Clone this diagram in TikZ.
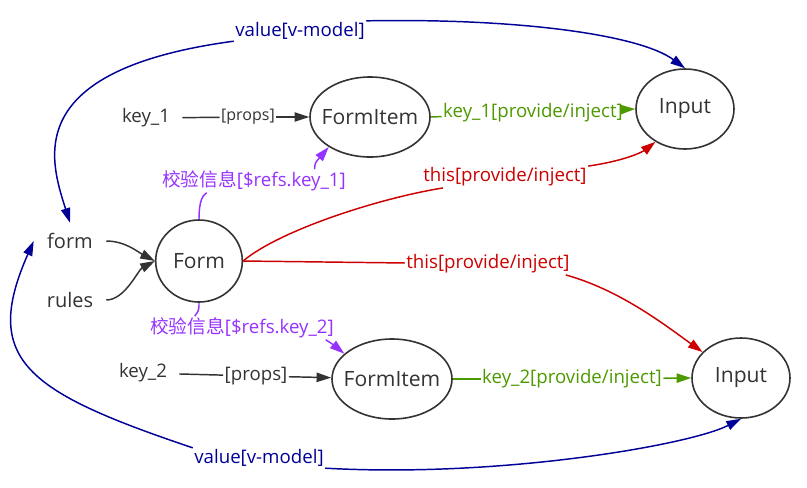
\documentclass[tikz,border=0pt]{standalone}
\usepackage{fontspec}
\setmainfont{Open Sans}
\newfontfamily\cjk{Noto Sans CJK SC}
\usetikzlibrary{arrows.meta,calc,shapes.geometric}
\definecolor{txtgray}{HTML}{333333}
\definecolor{vblue}{RGB}{0,0,150}
\definecolor{vred}{RGB}{204,0,0}
\definecolor{vgreen}{RGB}{77,153,0}
\definecolor{vpurple}{RGB}{150,50,255}
\tikzset{
  ell/.style={draw=txtgray,line width=1.2pt,ellipse,inner sep=0pt,text=txtgray,
    font=\fontsize{15.8}{18}\selectfont},
  itembox/.style={ell,inner xsep=-8pt,minimum width=90pt,minimum height=60pt},
  inputbox/.style={ell,minimum width=73.5pt,minimum height=60pt},
  plain/.style={text=txtgray,minimum width=54pt,minimum height=27pt,
    font=\fontsize{14}{17}\selectfont},
  lab/.style={inner sep=1pt,font=\fontsize{14}{17}\selectfont},
  tip/.style={-{Triangle[length=11pt,width=7pt]}},
  edge/.style={line width=1.1pt},
}
\begin{document}
\begin{tikzpicture}[x=0.75pt,y=-0.75pt]
    \useasboundingbox (0,0) rectangle (807,487);
    % nodes
    \node[plain] (key1) at (146,118) {key\_1};
    \node[itembox] (fi1) at (370,117) {FormItem};
    \node[inputbox] (in1) at (685,109) {Input};
    \node[ell,minimum width=65pt,minimum height=61.5pt] (F) at (199,261) {Form};
    \node[plain,font=\fontsize{15}{18}\selectfont] (form) at (70,241) {form};
    \node[plain,font=\fontsize{15}{18}\selectfont] (rules) at (70,300) {rules};
    \node[plain] (key2) at (143,373) {key\_2};
    \node[itembox] (fi2) at (392,379) {FormItem};
    \node[inputbox] (in2) at (741,378) {Input};
    % labels
    \node[lab,text=txtgray,font=\fontsize{12}{14}\selectfont] (pr1) at (248,117) {[props]};
    \node[lab,text=txtgray] (pr2) at (256,376) {[props]};
    \node[lab,text=vgreen] (gl1) at (533,113) {key\_1[provide/inject]};
    \node[lab,text=vgreen] (gl2) at (572,379) {key\_2[provide/inject]};
    \node[lab,text=vred] (rl1) at (505,177) {this[provide/inject]};
    \node[lab,text=vred] (rl2) at (488,264) {this[provide/inject]};
    \node[lab,text=vpurple] (pl1) at (254,181) {{\cjk 校验信息}[\$refs.key\_1]};
    \node[lab,text=vpurple] (pl2) at (242,328) {{\cjk 校验信息}[\$refs.key\_2]};
    \node[lab,text=vblue] (bl1) at (300,31) {value[v-model]};
    \node[lab,text=vblue] (bl2) at (259,458) {value[v-model]};
    % props
    \draw[edge,txtgray] (key1) -- (pr1);
    \draw[edge,txtgray,tip] (pr1) -- (fi1);
    \draw[edge,txtgray] (key2) -- (pr2);
    \draw[edge,txtgray,tip] (pr2) -- (fi2);
    % form, rules
    \draw[edge,txtgray,tip] (form.east) .. controls (125,241) and (138,252) .. (F.west);
    \draw[edge,txtgray,tip] (rules.east) .. controls (125,300) and (138,270) .. (F.west);
    % provide/inject
    \draw[edge,vgreen] (fi1.east) -- (gl1);
    \draw[edge,vgreen,tip] (gl1) -- (in1.west);
    \draw[edge,vgreen] (fi2.east) -- (gl2);
    \draw[edge,vgreen,tip] (gl2) -- (in2.west);
    \draw[edge,vred] (F.east) .. controls (280,230) and (380,198) .. (rl1.190);
    \draw[edge,vred,tip] (rl1.north east) .. controls (630,160) and (645,150) .. (in1.-132);
    \draw[edge,vred] (F.east) -- (rl2);
    \draw[edge,vred,tip] (rl2.-8) .. controls (620,290) and (665,325) .. (in2.146);
    % refs
    \draw[edge,vpurple] (F.north) .. controls (199,200) and (203,195) .. (pl1.194);
    \draw[edge,vpurple,tip] (pl1.11) .. controls (315,163) .. (fi1.216);
    \draw[edge,vpurple] (F.south) .. controls (199,310) .. (pl2.166);
    \draw[edge,vpurple,tip] (pl2.-8) .. controls (330,342) .. (fi2.152);
    % v-model
    \draw[edge,vblue,tip] (bl1.south west) .. controls (20,70) and (50,160) .. (form.north);
    \draw[edge,vblue,tip] (bl1.north east) .. controls (520,18) and (640,35) .. (in1.north);
    \draw[edge,vblue,tip] (bl2.north west) .. controls (27,392) and (-19,360) .. (form.west);
    \draw[edge,vblue,tip] (bl2.south east) .. controls (500,478) and (690,445) .. (in2.south);
\end{tikzpicture}
\end{document}
